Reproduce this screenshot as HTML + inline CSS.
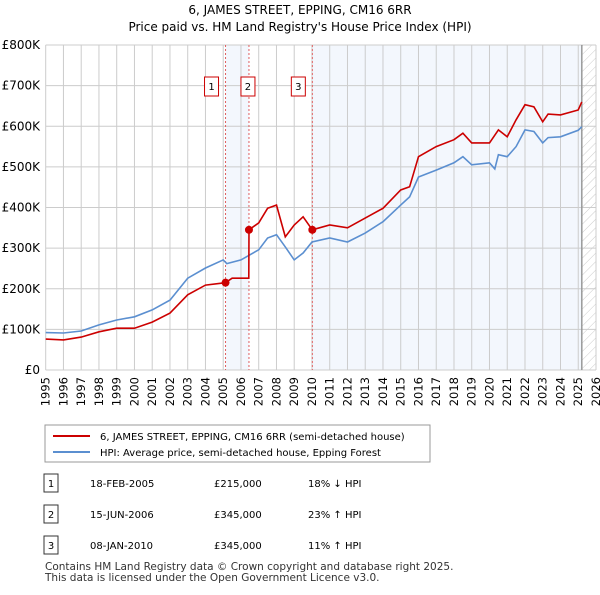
<!DOCTYPE html>
<html><head><meta charset="utf-8"><style>
body{margin:0;background:#fff;font-family:"Liberation Sans",sans-serif;}
svg text{font-family:"DejaVu Sans","Liberation Sans",sans-serif;}
</style></head><body>
<svg width="600" height="590" viewBox="0 0 600 590" xmlns="http://www.w3.org/2000/svg">
<defs><pattern id="hatch" width="6" height="6" patternUnits="userSpaceOnUse" patternTransform="rotate(45)"><line x1="0" y1="0" x2="0" y2="6" stroke="#ccc" stroke-width="1"/></pattern></defs>
<text x="300" y="14" text-anchor="middle" font-size="12">6, JAMES STREET, EPPING, CM16 6RR</text>
<text x="300" y="31" text-anchor="middle" font-size="12">Price paid vs. HM Land Registry's House Price Index (HPI)</text>
<g id="plot"></g>
<g id="legend">
<rect x="45" y="425" width="385" height="37" fill="#fff" stroke="#999"/>
<line x1="53" y1="436" x2="90" y2="436" stroke="#cc0000" stroke-width="2"/>
<text x="100" y="440" font-size="10">6, JAMES STREET, EPPING, CM16 6RR (semi-detached house)</text>
<line x1="53" y1="452" x2="90" y2="452" stroke="#5b8fd0" stroke-width="2"/>
<text x="100" y="456" font-size="10">HPI: Average price, semi-detached house, Epping Forest</text>
</g>
<g id="table" font-size="10"></g>
<text x="45" y="570" font-size="10.5" fill="#333">Contains HM Land Registry data © Crown copyright and database right 2025.</text>
<text x="45" y="581" font-size="10.5" fill="#333">This data is licensed under the Open Government Licence v3.0.</text>
</svg>
<script>
const hpiYears=[1995,1996,1997,1998,1999,2000,2001,2002,2003,2004,2005,2005.2,2006,2007,2007.5,2008,2008.5,2009,2009.5,2010,2011,2012,2013,2014,2015,2015.5,2016,2017,2018,2018.5,2019,2020,2020.3,2020.5,2021,2021.5,2022,2022.5,2023,2023.3,2024,2025,2025.2];
const hpiValues=[92,91,96,111,123,131,148,172,226,251,271,262,271,296,325,333,303,271,288,315,325,315,337,365,406,426,475,492,510,525,505,510,495,530,525,550,591,587,559,572,574,590,599];
const redYears=[1995,1996,1997,1998,1999,2000,2001,2002,2003,2004,2005.13,2005.5,2006.44,2006.45,2007,2007.5,2008,2008.5,2009,2009.5,2010.02,2011,2012,2013,2014,2015,2015.5,2016,2017,2018,2018.5,2019,2020,2020.5,2021,2021.5,2022,2022.5,2023,2023.3,2024,2025,2025.2];
const redValues=[76,74,81,94,103,103,118,140,185,209,215,226,226,345,362,398,406,328,357,377,345,357,350,374,398,443,451,525,550,567,583,559,559,591,574,616,653,648,611,630,628,640,660];
const saleYears=[2005.13,2006.45,2010.02];
const saleValues=[215,345,345];
const saleLabels=["1","2","3"];
const saleDates=["18-FEB-2005","15-JUN-2006","08-JAN-2010"];
const salePrices=["£215,000","£345,000","£345,000"];
const saleHpi=["18% ↓ HPI","23% ↑ HPI","11% ↑ HPI"];
const yTicks=[0,100,200,300,400,500,600,700,800];
const yTickLabels=["£0","£100K","£200K","£300K","£400K","£500K","£600K","£700K","£800K"];
const xTicks=[1995,1996,1997,1998,1999,2000,2001,2002,2003,2004,2005,2006,2007,2008,2009,2010,2011,2012,2013,2014,2015,2016,2017,2018,2019,2020,2021,2022,2023,2024,2025,2026];
const dataEnd=2025.2;
const NS="http://www.w3.org/2000/svg";
const X0=45.7,X1=596,Y0=370,Y1=45;
const xs=y=>X0+(y-1995)*(X1-X0)/31;
const ys=v=>Y0-v*(Y0-Y1)/800;
function mk(tag,attrs,parent){const e=document.createElementNS(NS,tag);for(const k in attrs)e.setAttribute(k,attrs[k]);parent.appendChild(e);return e;}
const plot=document.getElementById('plot');
let s=mk('rect',{x:xs(saleYears[0]),y:Y1,width:xs(saleYears[1])-xs(saleYears[0]),height:Y0-Y1,fill:'#eef3fc',opacity:0.7},plot);

s=mk('rect',{x:xs(saleYears[2]),y:Y1,width:xs(dataEnd)-xs(saleYears[2]),height:Y0-Y1,fill:'#eef3fc',opacity:0.7},plot);

s=mk('rect',{x:xs(dataEnd),y:Y1,width:X1-xs(dataEnd),height:Y0-Y1,fill:'url(#hatch)'},plot);

xTicks.forEach((t,i)=>{const l=mk('line',{x1:xs(t),x2:xs(t),y1:Y1,y2:Y0,stroke:'#ccc'},plot);

const x=xs(t)+4;
const tx=mk('text',{x:x,y:377,'font-size':11.5,'text-anchor':'end',transform:'rotate(-90 '+x+' 377)'},plot);tx.textContent=t;
});
yTicks.forEach((t,i)=>{const l=mk('line',{x1:X0,x2:X1,y1:ys(t),y2:ys(t),stroke:'#ccc'},plot);

const tx=mk('text',{x:40,y:ys(t)+4,'font-size':12,'text-anchor':'end'},plot);tx.textContent=yTickLabels[i];
});
let el=mk('line',{x1:xs(dataEnd),x2:xs(dataEnd),y1:Y1,y2:Y0,stroke:'#999','stroke-width':1.5},plot);

saleYears.forEach((y,i)=>{const l=mk('line',{x1:xs(y),x2:xs(y),y1:Y1,y2:Y0,stroke:'#e06060','stroke-dasharray':'2,2'},plot);
});
function path(xa,va,col,name){const d=xa.map((y,i)=>(i?'L':'M')+xs(y).toFixed(1)+','+ys(va[i]).toFixed(1)).join('');
const p=mk('path',{d:d,fill:'none',stroke:col,'stroke-width':1.6},plot);}
path(hpiYears,hpiValues,'#5b8fd0','hpi-line');
path(redYears,redValues,'#cc0000','price-line');
saleYears.forEach((y,i)=>{const c=mk('circle',{cx:xs(y),cy:ys(saleValues[i]),r:4,fill:'#cc0000'},plot);

const r=mk('rect',{x:xs(y)-21+(i==1?13:0),y:77,width:14,height:19,fill:'#fff',stroke:'#cc0000'},plot);

const t=mk('text',{x:xs(y)-14+(i==1?13:0),y:90,'font-size':10,'text-anchor':'middle'},plot);t.textContent=saleLabels[i];
});
const tb=document.getElementById('table');
saleLabels.forEach((lab,i)=>{const y=483+i*31;
const r=mk('rect',{x:44,y:y-9,width:14,height:18,fill:'#fff',stroke:'#333'},tb);
const cells=[[51,lab,'middle'],[90,saleDates[i],'start'],[214,salePrices[i],'start'],[308,saleHpi[i],'start']];
cells.forEach(c=>{const t=mk('text',{x:c[0],y:y+4,'text-anchor':c[2]},tb);t.textContent=c[1];
});});
</script>
</body></html>
